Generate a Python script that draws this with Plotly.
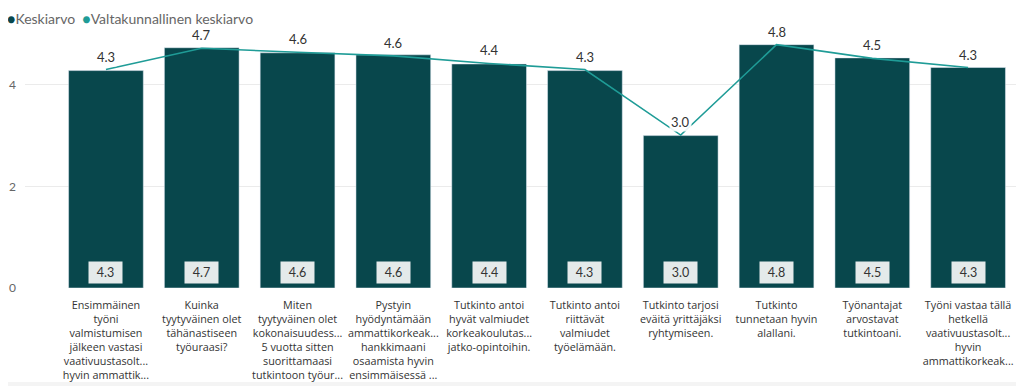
import plotly.graph_objects as go

categories = [
    "Ensimmäinen<br>työni<br>valmistumisen<br>jälkeen vastasi<br>vaativuustasolt...<br>hyvin ammattik...",
    "Kuinka<br>tyytyväinen olet<br>tähänastiseen<br>työuraasi?",
    "Miten<br>tyytyväinen olet<br>kokonaisuudess...<br>5 vuotta sitten<br>suorittamaasi<br>tutkintoon työur...",
    "Pystyin<br>hyödyntämään<br>ammattikorkeak...<br>hankkimaani<br>osaamista hyvin<br>ensimmäisessä ...",
    "Tutkinto antoi<br>hyvät valmiudet<br>korkeakoulutas...<br>jatko-opintoihin.",
    "Tutkinto antoi<br>riittävät<br>valmiudet<br>työelämään.",
    "Tutkinto tarjosi<br>eväitä yrittäjäksi<br>ryhtymiseen.",
    "Tutkinto<br>tunnetaan hyvin<br>alallani.",
    "Työnantajat<br>arvostavat<br>tutkintoani.",
    "Työni vastaa tällä<br>hetkellä<br>vaativuustasolt...<br>hyvin<br>ammattikorkeak...",
]
keskiarvo = [4.28, 4.73, 4.63, 4.59, 4.41, 4.28, 3.00, 4.79, 4.53, 4.34]
valtakunnallinen = [4.30, 4.72, 4.64, 4.57, 4.42, 4.30, 3.01, 4.79, 4.52, 4.34]
y_ticks = [0, 2, 4]

BAR = "#08474C"
LINE = "#1F9C97"
FONT = "Lato"
TICKFONT = "Open Sans"

fig = go.Figure()
fig.add_trace(go.Bar(
    x=categories, y=keskiarvo, marker_color=BAR, width=0.78,
    showlegend=False, name="Keskiarvo",
))
fig.add_trace(go.Scatter(
    x=categories, y=valtakunnallinen, mode="lines",
    line=dict(color=LINE, width=1.6),
    showlegend=False, name="Valtakunnallinen keskiarvo", cliponaxis=False,
))

annotations = []
for c, v in zip(categories, valtakunnallinen):
    annotations.append(dict(
        x=c, y=v, xref="x", yref="y", text=f"{v:.1f}", showarrow=False,
        yshift=13, font=dict(family=FONT, size=13, color="#333333"),
        bgcolor="rgba(255,255,255,0.9)", borderpad=1,
    ))
for c, v in zip(categories, keskiarvo):
    annotations.append(dict(
        x=c, y=0, xref="x", yref="y", text=f"{v:.1f}", showarrow=False,
        yshift=16, font=dict(family=FONT, size=12.5, color="#333333"),
        bgcolor="#E4EAEA", borderpad=3, width=27,
    ))
annotations.append(dict(
    x=0, y=1, xref="paper", yref="paper", xanchor="left", yanchor="top",
    xshift=-20, yshift=26,
    text=f'<span style="color:{BAR}">●</span>Keskiarvo  <span style="color:{LINE}">●</span>Valtakunnallinen keskiarvo',
    showarrow=False, font=dict(family=FONT, size=14, color="#666666"),
))

fig.update_layout(
    width=1010, height=378,
    margin=dict(l=17, r=2, t=26, b=98),
    plot_bgcolor="white", paper_bgcolor="white",
    font=dict(family=FONT, color="#333333"),
    annotations=annotations,
    shapes=[dict(type="rect", xref="paper", yref="paper", x0=-0.05, x1=1.05,
                 y0=-0.37, y1=-0.6, fillcolor="#F4F4F4", line_width=0, layer="below")],
)
fig.update_xaxes(
    range=[-0.845, 9.5], tickfont=dict(family=TICKFONT, size=10.8, color="#333333"),
    showgrid=False, showline=False, ticks="", ticklabelstandoff=9,
    tickangle=0, automargin=False,
)
fig.update_yaxes(
    range=[0, 5], tickvals=y_ticks, ticktext=[str(t) for t in y_ticks],
    showgrid=True, gridcolor="#EBEBEB", gridwidth=1, zeroline=False,
    tickfont=dict(family=FONT, size=12, color="#666666"), ticklabelstandoff=8,
)

fig.write_html("out.html")
